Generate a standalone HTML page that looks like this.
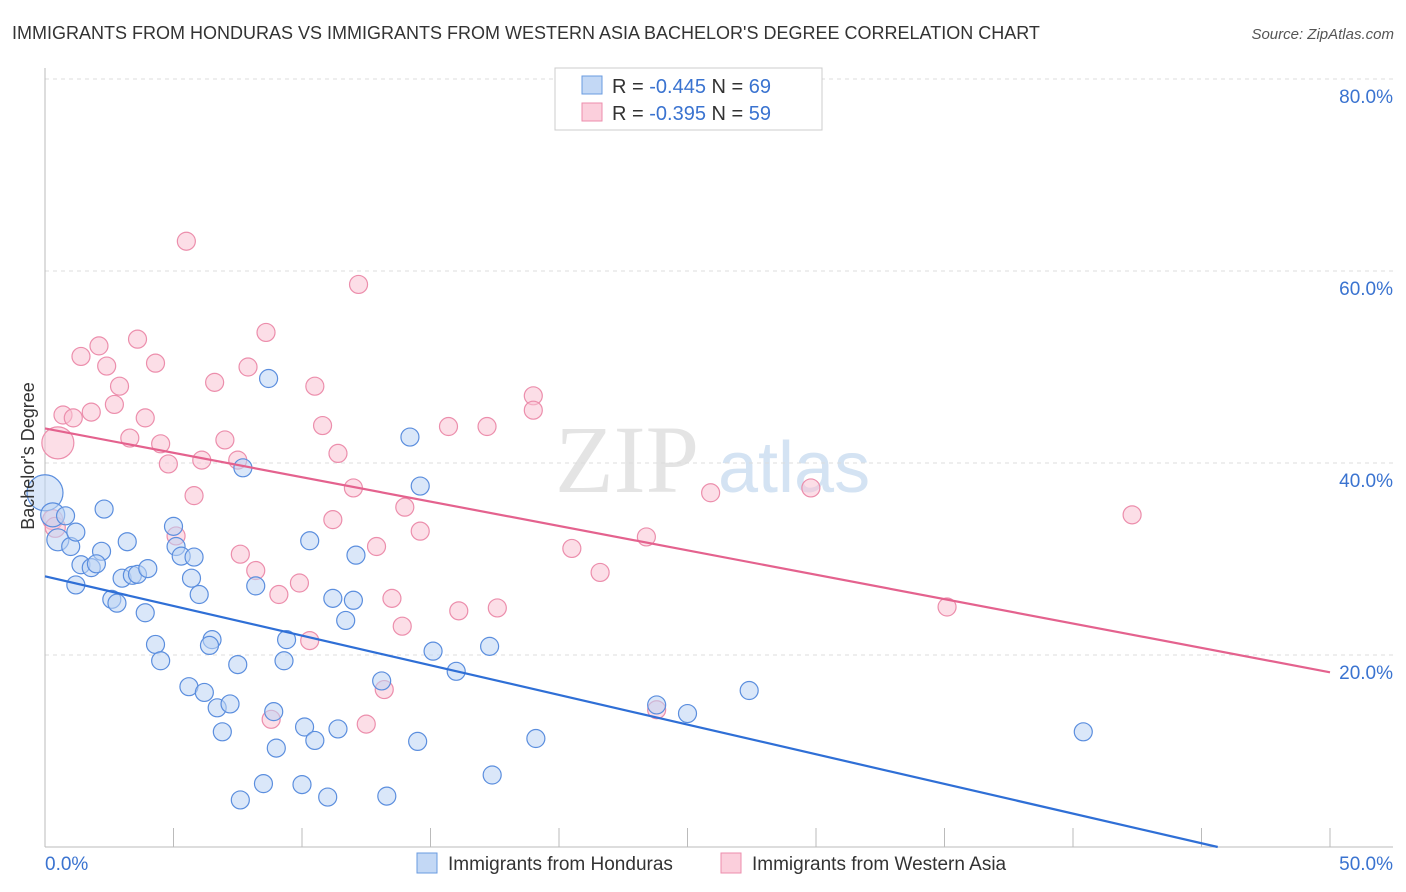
<!DOCTYPE html>
<html><head><meta charset="utf-8"><style>
body{margin:0;background:#fff;font-family:"Liberation Sans",sans-serif}
svg{display:block}
</style></head><body>
<svg width="1406" height="892" viewBox="0 0 1406 892">
<text x="12" y="39" font-size="18" fill="#333">IMMIGRANTS FROM HONDURAS VS IMMIGRANTS FROM WESTERN ASIA BACHELOR'S DEGREE CORRELATION CHART</text>
<text x="1394" y="39" font-size="15" fill="#555" text-anchor="end" font-style="italic">Source: ZipAtlas.com</text>
<text x="555" y="492" font-size="96" fill="#e4e4e4" font-family="Liberation Serif,serif">ZIP</text>
<text x="718" y="492" font-size="72" fill="#d4e3f3">atlas</text>
<g id="grid"></g>
<g id="axes"></g>
<g id="pts"></g>
<g id="lines"></g>
<text transform="translate(34,456) rotate(-90)" font-size="18" fill="#333" text-anchor="middle">Bachelor's Degree</text>
<g>
<rect x="555" y="68" width="267" height="62" fill="#fff" stroke="#ccc"/>
<rect x="582" y="76" width="20" height="18" fill="#c3d8f5" stroke="#6a9be0"/>
<rect x="582" y="103" width="20" height="18" fill="#fbcfdc" stroke="#ec8eac"/>
<text x="612" y="93" font-size="20" fill="#333">R = <tspan fill="#3a73d0">-0.445</tspan>   N = <tspan fill="#3a73d0">69</tspan></text>
<text x="612" y="120" font-size="20" fill="#333">R = <tspan fill="#3a73d0">-0.395</tspan>   N = <tspan fill="#3a73d0">59</tspan></text>
</g>
<g>
<rect x="417" y="853" width="20" height="20" fill="#c3d8f5" stroke="#6a9be0"/>
<text x="448" y="870" font-size="19" fill="#333">Immigrants from Honduras</text>
<rect x="721" y="853" width="20" height="20" fill="#fbcfdc" stroke="#ec8eac"/>
<text x="752" y="870" font-size="19" fill="#333">Immigrants from Western Asia</text>
</g>
</svg>
<script>
const blueX=[0,0.3,0.8,0.5,1,1.2,2.3,2.2,1.4,1.8,2,1.2,3.2,3.0,3.4,3.6,4.0,2.6,2.8,3.9,4.3,4.5,5.0,5.1,5.3,5.8,5.7,6.0,5.6,6.2,6.5,6.4,7.5,6.7,7.2,6.9,7.7,8.7,8.2,9.4,9.3,8.9,9.0,10.1,10.5,11.4,8.5,7.6,10.0,11.0,10.3,11.2,12.0,11.7,12.1,13.1,14.2,14.6,15.1,16.0,17.3,14.5,13.3,17.4,19.1,23.8,25.0,27.4,40.4];
const blueY=[36.9,34.6,34.5,32.0,31.3,32.8,35.2,30.8,29.4,29.1,29.5,27.3,31.8,28.0,28.3,28.4,29.0,25.8,25.4,24.4,21.1,19.4,33.4,31.3,30.3,30.2,28.0,26.3,16.7,16.1,21.6,21.0,19.0,14.5,14.9,12.0,39.5,48.8,27.2,21.6,19.4,14.1,10.3,12.5,11.1,12.3,6.6,4.9,6.5,5.2,31.9,25.9,25.7,23.6,30.4,17.3,42.7,37.6,20.4,18.3,20.9,11.0,5.3,7.5,11.3,14.8,13.9,16.3,12.0];
const pinkX=[5.5,12.2,8.6,3.6,2.1,1.4,4.3,2.4,7.9,2.9,6.6,10.5,2.7,0.7,1.1,1.8,3.9,0.5,3.3,4.5,7.0,4.8,6.1,7.5,10.8,11.4,15.7,17.2,19.0,19.0,12.0,5.8,14.0,11.2,14.6,5.1,12.9,7.6,8.2,20.5,23.4,25.9,29.8,42.3,21.6,9.9,9.1,13.5,16.1,17.6,13.9,10.3,13.2,8.8,12.5,23.8,35.1,0.3,0.4];
const pinkY=[63.1,58.6,53.6,52.9,52.2,51.1,50.4,50.1,50.0,48.0,48.4,48.0,46.1,45.0,44.7,45.3,44.7,42.1,42.6,42.0,42.4,39.9,40.3,40.3,43.9,41.0,43.8,43.8,47.0,45.5,37.4,36.6,35.4,34.1,32.9,32.4,31.3,30.5,28.8,31.1,32.3,36.9,37.4,34.6,28.6,27.5,26.3,25.9,24.6,24.9,23.0,21.5,16.4,13.3,12.8,14.3,25.0,34.1,33.3];
const pinkR={0:9,17:16,57:10,58:10};
const blueR={0:18,1:12,3:11};
const xTicks=[0,5,10,15,20,25,30,35,40,45,50];
const yTicks=[20,40,60,80];
const blueFit=[28.2,-2.7];
const pinkFit=[43.6,18.2];
const X=v=>45+v*25.7, Y=v=>847-v*9.6;
const NS='http://www.w3.org/2000/svg';
function mk(p,t,a){const e=document.createElementNS(NS,t);for(const k in a)e.setAttribute(k,a[k]);p.appendChild(e);return e;}
const grid=document.getElementById('grid'),axes=document.getElementById('axes'),pts=document.getElementById('pts'),lines=document.getElementById('lines');
yTicks.forEach(v=>{
 const l=mk(grid,'line',{x1:45,x2:1393,y1:Y(v),y2:Y(v),stroke:'#ddd','stroke-dasharray':'4,4'});
 
 
 const t=mk(axes,'text',{x:1393,y:Y(v)+24,'font-size':19,fill:'#3a73d0','text-anchor':'end'});
 t.textContent=v.toFixed(1)+'%';
 
 
});
const ya=mk(axes,'line',{x1:45,x2:45,y1:68,y2:847,stroke:'#bbb'});


const xa=mk(axes,'line',{x1:45,x2:1393,y1:847,y2:847,stroke:'#bbb'});


xTicks.forEach(v=>{
 const l=mk(axes,'line',{x1:X(v),x2:X(v),y1:828,y2:847,stroke:'#bbb'});
 
 
});
[[0,'start'],[50,'end']].forEach(([v,a])=>{
 const t=mk(axes,'text',{x:v?1393:45,y:870,'font-size':19,fill:'#3a73d0','text-anchor':a});
 t.textContent=v.toFixed(1)+'%';
 
 
});
function draw(xs,ys,rs,fill,stroke,name){
 xs.forEach((x,i)=>{
  const c=mk(pts,'circle',{cx:X(x),cy:Y(ys[i]),r:rs[i]||9,fill:fill,'fill-opacity':0.55,stroke:stroke,'stroke-width':1.2});
  
  
 });
}
draw(pinkX,pinkY,pinkR,'#f9c3d3','#ec8eac','point-western-asia');
draw(blueX,blueY,blueR,'#bcd4f4','#5b8ede','point-honduras');
const bx2=(blueFit[0]/(blueFit[0]-blueFit[1]))*50;
const bl=mk(lines,'line',{x1:X(0),y1:Y(blueFit[0]),x2:X(bx2),y2:Y(0),stroke:'#2f6fd6','stroke-width':2.2});


const pl=mk(lines,'line',{x1:X(0),y1:Y(pinkFit[0]),x2:X(50),y2:Y(pinkFit[1]),stroke:'#e4628e','stroke-width':2.2});


</script>
</body></html>
